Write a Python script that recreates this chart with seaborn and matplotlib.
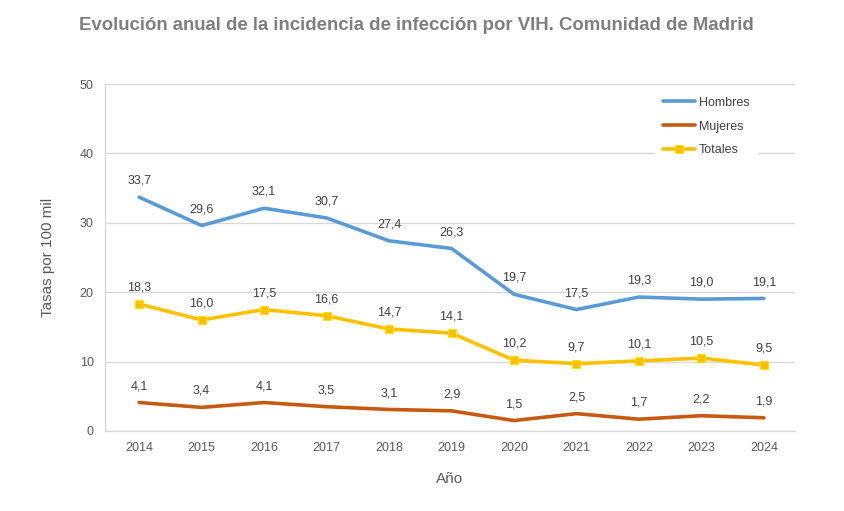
import matplotlib
matplotlib.use("Agg")
import matplotlib.pyplot as plt
import numpy as np
import pandas as pd
import seaborn as sns

years = ["2014", "2015", "2016", "2017", "2018", "2019", "2020", "2021", "2022", "2023", "2024"]
hombres = [33.7, 29.6, 32.1, 30.7, 27.4, 26.3, 19.7, 17.5, 19.3, 19.0, 19.1]
mujeres = [4.1, 3.4, 4.1, 3.5, 3.1, 2.9, 1.5, 2.5, 1.7, 2.2, 1.9]
totales = [18.3, 16.0, 17.5, 16.6, 14.7, 14.1, 10.2, 9.7, 10.1, 10.5, 9.5]

series = {"Hombres": hombres, "Mujeres": mujeres, "Totales": totales}
colors = {"Hombres": "#5B9BD5", "Mujeres": "#C55A11", "Totales": "#FFC000"}

sns.set_style("white")
plt.rcParams["font.family"] = ["Liberation Sans", "DejaVu Sans"]

fig = plt.figure(figsize=(8.45, 5.11), dpi=100)
ax = fig.add_axes([0.124, 0.1566, 0.817, 0.679])

x = np.arange(len(years))
for name, vals in series.items():
    df = pd.DataFrame({"x": x, "y": vals})
    if name == "Totales":
        sns.lineplot(data=df, x="x", y="y", ax=ax, color=colors[name], lw=2.6,
                     marker="s", markersize=6, markeredgecolor="#FFE000",
                     markerfacecolor="#FFC000", label=name)
    else:
        sns.lineplot(data=df, x="x", y="y", ax=ax, color=colors[name], lw=2.6, label=name)
    for xi, v in zip(x, vals):
        ax.annotate(f"{v:.1f}".replace(".", ","), (xi, v), xytext=(0, 7.5),
                    textcoords="offset points", ha="center", va="bottom",
                    fontsize=9, color="#404040")

ax.set_xlim(-0.55, 10.5)
ax.set_ylim(0, 50)
ax.set_yticks(range(0, 51, 10))
ax.set_xticks(x)
ax.set_xticklabels(years)
ax.grid(axis="y", color="#D9D9D9", lw=1)
ax.set_axisbelow(True)
for s in ["top", "right"]:
    ax.spines[s].set_visible(False)
for s in ["left", "bottom"]:
    ax.spines[s].set_color("#D9D9D9")
    ax.spines[s].set_linewidth(1)
ax.tick_params(axis="both", labelsize=9, colors="#595959", length=0, pad=8)
ax.set_xlabel("Año", fontsize=11, color="#595959", labelpad=13)
ax.set_ylabel("Tasas por 100 mil", fontsize=11, color="#595959", labelpad=18)

leg = ax.legend(loc="upper right", bbox_to_anchor=(0.945, 0.985), frameon=True,
                fontsize=9, handlelength=2.6, handletextpad=0.3,
                labelspacing=0.95, borderpad=0.6, borderaxespad=0)
leg.get_frame().set_edgecolor("white")
leg.get_frame().set_facecolor("white")
leg.get_frame().set_alpha(1)
for t in leg.get_texts():
    t.set_color("#404040")

fig.text(0.493, 0.95, "Evolución anual de la incidencia de infección por VIH. Comunidad de Madrid",
         ha="center", va="center", fontsize=13.4, fontweight="bold", color="#7F7F7F")

fig.savefig("out.png", dpi=100)
